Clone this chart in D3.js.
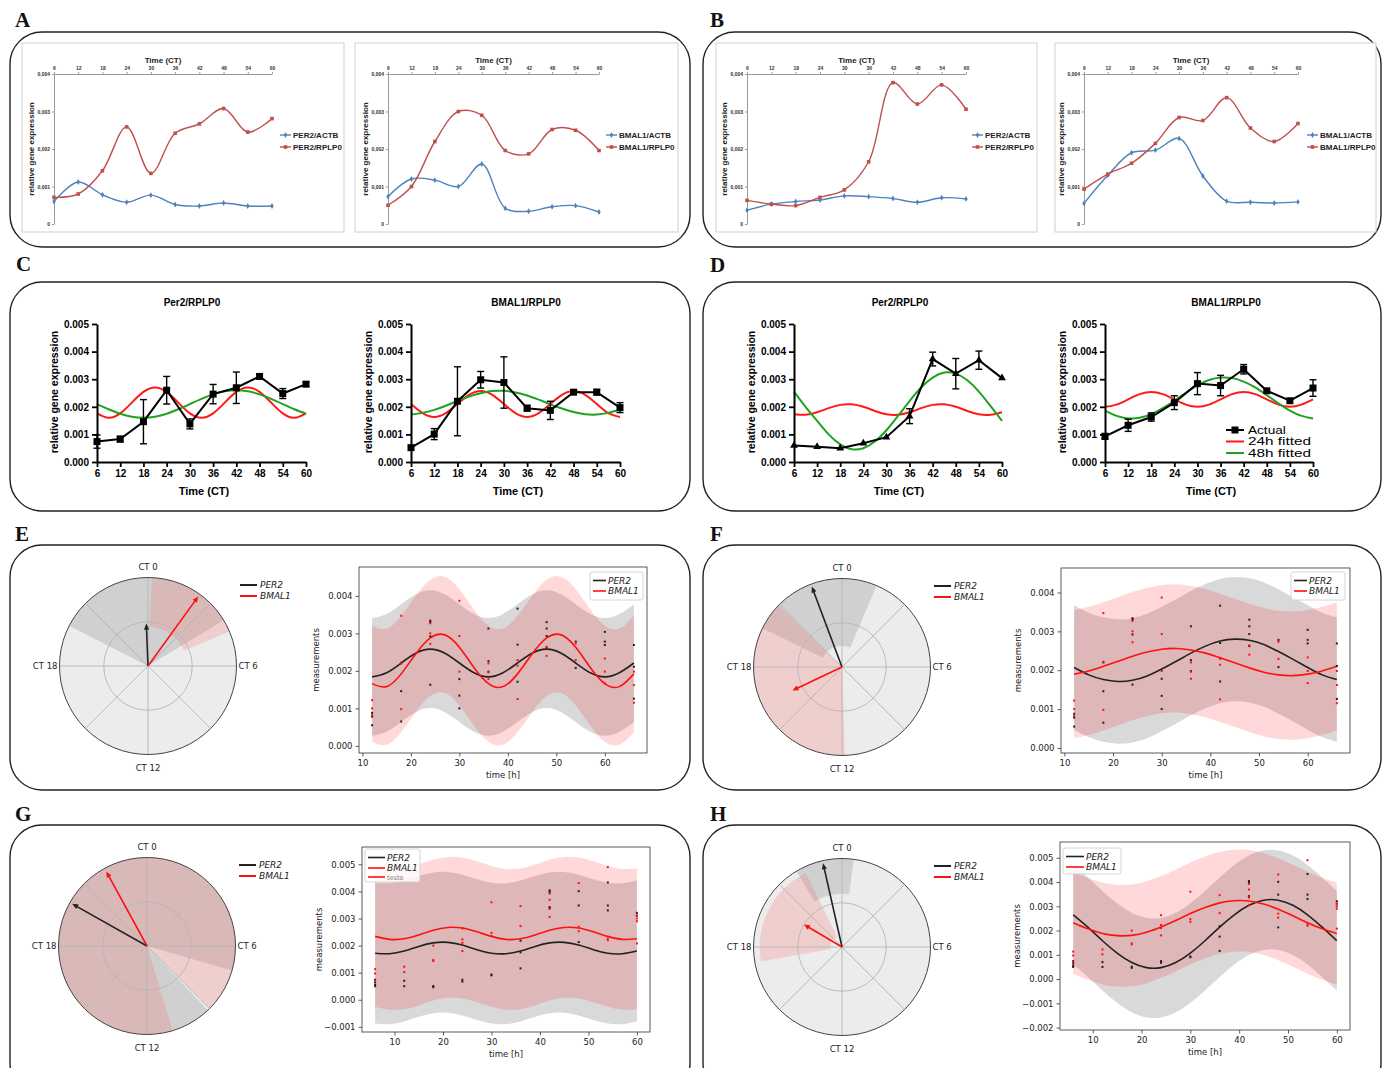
<!DOCTYPE html>
<html><head><meta charset="utf-8">
<script src="https://cdn.jsdelivr.net/npm/d3@7/dist/d3.min.js"></script>
<style>html,body{margin:0;padding:0;background:#fff;}</style>
</head><body>
<script>
// ===================== DATA =====================
const ctTimes = [6,12,18,24,30,36,42,48,54,60];
const fitTimes = [6,9,12,15,18,21,24,27,30,33,36,39,42,45,48,51,54,57,60];
const efFitTimes = [12,15,18,21,24,27,30,33,36,39,42,45,48,51,54,57,60,63,66];
const ghFitTimes = [6,9,12,15,18,21,24,27,30,33,36,39,42,45,48,51,54,57,60];
const excelYTicks = [0,0.001,0.002,0.003,0.004];
const prismYTicks = [0,0.001,0.002,0.003,0.004,0.005];

// Panel A
const aPer2Actb   = [0.00060,0.00112,0.00078,0.00058,0.00077,0.00052,0.00048,0.00056,0.00048,0.00048];
const aPer2Rplp0  = [0.00071,0.00080,0.00142,0.00259,0.00135,0.00242,0.00267,0.00308,0.00245,0.00281];
const aBmal1Actb  = [0.00073,0.00120,0.00117,0.00100,0.00160,0.00042,0.00034,0.00046,0.00049,0.00032];
const aBmal1Rplp0 = [0.00050,0.00100,0.00220,0.00300,0.00290,0.00196,0.00187,0.00252,0.00250,0.00196];
// Panel B
const bPer2Actb   = [0.00037,0.00053,0.00060,0.00064,0.00075,0.00073,0.00068,0.00058,0.00070,0.00067];
const bPer2Rplp0  = [0.00063,0.00053,0.00049,0.00071,0.00091,0.00166,0.00377,0.00320,0.00371,0.00306];
const bBmal1Actb  = [0.00055,0.00130,0.00190,0.00197,0.00228,0.00128,0.00061,0.00058,0.00056,0.00059];
const bBmal1Rplp0 = [0.00093,0.00133,0.00162,0.00215,0.00284,0.00276,0.00337,0.00256,0.00220,0.00268];

// Panel C
const cPer2Mean  = [0.00074,0.00083,0.00146,0.00260,0.00138,0.00246,0.00269,0.00310,0.00248,0.00282];
const cPer2Err   = [0.00024,0.00010,0.00080,0.00050,0.00018,0.00035,0.00057,0.00008,0.00018,0.00008];
const cPer2Fit24 = [0.00176,0.00160,0.00176,0.00215,0.00254,0.00270,0.00254,0.00215,0.00176,0.00160,0.00176,0.00215,0.00254,0.00270,0.00254,0.00215,0.00176,0.00160,0.00176];
const cPer2Fit48 = [0.00210,0.00191,0.00175,0.00164,0.00160,0.00164,0.00175,0.00191,0.00210,0.00229,0.00245,0.00256,0.00260,0.00256,0.00245,0.00229,0.00210,0.00191,0.00175];
const cBmal1Mean  = [0.00052,0.00101,0.00220,0.00298,0.00288,0.00195,0.00187,0.00253,0.00253,0.00197];
const cBmal1Err   = [0.00005,0.00020,0.00125,0.00030,0.00093,0.00010,0.00033,0.00005,0.00010,0.00018];
const cBmal1Fit24 = [0.00210,0.00177,0.00163,0.00177,0.00210,0.00243,0.00257,0.00243,0.00210,0.00177,0.00163,0.00177,0.00210,0.00243,0.00257,0.00243,0.00210,0.00177,0.00163];
const cBmal1Fit48 = [0.00172,0.00178,0.00189,0.00204,0.00221,0.00237,0.00249,0.00257,0.00258,0.00252,0.00241,0.00226,0.00209,0.00194,0.00181,0.00173,0.00172,0.00178,0.00189];
// Panel D
const dPer2Mean  = [0.00060,0.00055,0.00050,0.00068,0.00090,0.00166,0.00373,0.00320,0.00369,0.00304];
const dPer2Err   = [0.00003,0.00003,0.00003,0.00004,0.00003,0.00027,0.00025,0.00055,0.00033,0.00003];
const dPer2Fit24 = [0.00173,0.00171,0.00180,0.00195,0.00207,0.00209,0.00200,0.00185,0.00173,0.00171,0.00180,0.00195,0.00207,0.00209,0.00200,0.00185,0.00173,0.00171,0.00180];
const dPer2Fit48 = [0.00255,0.00200,0.00149,0.00100,0.00064,0.00046,0.00050,0.00074,0.00115,0.00167,0.00221,0.00270,0.00306,0.00324,0.00320,0.00296,0.00255,0.00203,0.00149];
const dBmal1Mean  = [0.00093,0.00133,0.00163,0.00215,0.00284,0.00277,0.00336,0.00258,0.00222,0.00268];
const dBmal1Err   = [0.00010,0.00022,0.00015,0.00025,0.00040,0.00037,0.00017,0.00005,0.00004,0.00030];
const dBmal1Fit24 = [0.00200,0.00208,0.00227,0.00246,0.00254,0.00246,0.00227,0.00208,0.00200,0.00208,0.00227,0.00246,0.00254,0.00246,0.00227,0.00208,0.00200,0.00208,0.00227];
const dBmal1Fit48 = [0.00186,0.00167,0.00158,0.00160,0.00173,0.00195,0.00222,0.00251,0.00278,0.00297,0.00306,0.00304,0.00291,0.00270,0.00242,0.00213,0.00186,0.00167,0.00158];
const dLegendLabels = ['Actual','24h fitted','48h fitted'];

// Panels E/F raw measurements (time [h], value)
const efPer2Points = [[12,0.00088],[12,0.00078],[12,0.00055],[18,0.00220],[18,0.00146],[18,0.00065],
  [24,0.00334],[24,0.00330],[24,0.00292],[24,0.00163],[30,0.00178],[30,0.00134],[30,0.00100],
  [36,0.00313],[36,0.00226],[36,0.00198],[42,0.00366],[42,0.00270],[42,0.00171],
  [48,0.00330],[48,0.00313],[48,0.00293],[48,0.00262],[54,0.00278],[54,0.00208],
  [60,0.00304],[60,0.00278],[60,0.00269],[66,0.00269],[66,0.00211],[66,0.00126]];
const efBmal1Points = [[12,0.00122],[12,0.00100],[12,0.00082],[18,0.00347],[18,0.00222],[18,0.00098],
  [24,0.00327],[24,0.00300],[24,0.00272],[30,0.00387],[30,0.00293],[30,0.00198],
  [36,0.00220],[36,0.00196],[36,0.00178],[42,0.00229],[42,0.00214],[42,0.00125],
  [48,0.00264],[48,0.00240],[54,0.00273],[54,0.00229],[60,0.00233],[60,0.00198],[60,0.00167],
  [66,0.00198],[66,0.00162],[66,0.00115]];
// Panels G/H raw measurements
const ghPer2Points = [[6,0.00074],[6,0.00064],[6,0.00055],[6,0.00050],[12,0.00070],[12,0.00050],
  [18,0.00051],[18,0.00046],[24,0.00074],[24,0.00067],[30,0.00093],[30,0.00090],
  [36,0.00218],[36,0.00175],[36,0.00116],[42,0.00404],[42,0.00398],[42,0.00342],[42,0.00338],
  [48,0.00401],[48,0.00348],[48,0.00213],[54,0.00433],[54,0.00348],[54,0.00330],[60,0.00321],[60,0.00311]];
const ghBmal1Points = [[6,0.00113],[6,0.00097],[6,0.00070],[12,0.00122],[12,0.00102],
  [18,0.00200],[18,0.00147],[18,0.00143],[24,0.00263],[24,0.00223],[24,0.00210],[24,0.00180],
  [30,0.00360],[30,0.00247],[30,0.00236],[36,0.00346],[36,0.00272],
  [42,0.00392],[42,0.00369],[42,0.00336],[42,0.00306],[48,0.00431],[48,0.00270],[48,0.00253],
  [54,0.00490],[54,0.00226],[54,0.00220],[60,0.00310],[60,0.00300],[60,0.00290],[60,0.00208]];

// Cosinor fits
const ePer2Fit  = [0.00184,0.00195,0.00221,0.00247,0.00258,0.00247,0.00221,0.00195,0.00184,0.00195,0.00221,0.00247,0.00258,0.00247,0.00221,0.00195,0.00184,0.00195,0.00221];
const eBmal1Fit = [0.00166,0.00158,0.00192,0.00245,0.00288,0.00296,0.00263,0.00209,0.00166,0.00158,0.00192,0.00245,0.00288,0.00296,0.00263,0.00209,0.00166,0.00158,0.00192];
const fPer2Fit  = [0.00207,0.00188,0.00176,0.00171,0.00174,0.00185,0.00203,0.00223,0.00244,0.00262,0.00275,0.00280,0.00277,0.00266,0.00248,0.00228,0.00207,0.00188,0.00176];
const fBmal1Fit = [0.00190,0.00198,0.00210,0.00223,0.00236,0.00247,0.00254,0.00256,0.00252,0.00244,0.00232,0.00219,0.00206,0.00195,0.00188,0.00186,0.00190,0.00198,0.00210];
const gPer2Fit  = [0.00172,0.00170,0.00180,0.00197,0.00210,0.00212,0.00202,0.00185,0.00172,0.00170,0.00180,0.00197,0.00210,0.00212,0.00202,0.00185,0.00172,0.00170,0.00180];
const gBmal1Fit = [0.00234,0.00223,0.00225,0.00239,0.00257,0.00267,0.00265,0.00251,0.00234,0.00223,0.00225,0.00239,0.00257,0.00267,0.00265,0.00251,0.00234,0.00223,0.00225];
const hPer2Fit  = [0.00265,0.00214,0.00158,0.00107,0.00068,0.00047,0.00047,0.00068,0.00107,0.00158,0.00214,0.00265,0.00304,0.00325,0.00325,0.00304,0.00265,0.00214,0.00158];
const hBmal1Fit = [0.00232,0.00207,0.00188,0.00179,0.00180,0.00193,0.00215,0.00241,0.00270,0.00295,0.00314,0.00323,0.00322,0.00309,0.00288,0.00261,0.00232,0.00207,0.00188];
// confidence band half widths
const ePer2Band = 0.00157, eBmal1Band = 0.00155;
const fPer2Band = 0.00160, fBmal1Band = 0.00165;
const gPer2Band = 0.00260, gBmal1Band = 0.00260;
const hPer2Band = 0.00205, hBmal1Band = 0.00210;

// Polar plots: acrophase CI (CT h) and normalised amplitude CI; arrows = acrophase & amplitude
const ePolarSectors = [{gene:'PER2',ct0:-4.20,ct1:3.93,r0:0,r1:1},{gene:'BMAL1',ct0:0.17,ct1:4.47,r0:0.44,r1:1}];
const ePolarArrows  = [{gene:'PER2',ct:-0.15,amp:0.48},{gene:'BMAL1',ct:2.39,amp:0.97}];
const fPolarSectors = [{gene:'PER2',ct0:-4.27,ct1:1.53,r0:0.24,r1:1},{gene:'BMAL1',ct0:11.87,ct1:20.93,r0:0,r1:1}];
const fPolarArrows  = [{gene:'PER2',ct:-1.37,amp:0.97},{gene:'BMAL1',ct:16.31,amp:0.62}];
const gPolarSectors = [{gene:'PER2',ct0:9.10,ct1:31.07,r0:0,r1:1},{gene:'BMAL1',ct0:10.87,ct1:32.98,r0:0,r1:1}];
const gPolarArrows  = [{gene:'PER2',ct:-4.04,amp:0.97},{gene:'BMAL1',ct:-1.91,amp:0.96}];
const hPolarSectors = [{gene:'PER2',ct0:-2.07,ct1:0.51,r0:0.6,r1:1},{gene:'BMAL1',ct0:-6.67,ct1:-1.73,r0:0.13,r1:0.93}];
const hPolarArrows  = [{gene:'PER2',ct:-0.85,amp:0.97},{gene:'BMAL1',ct:-3.96,amp:0.5}];
const polarLabels = ['CT 0','CT 6','CT 12','CT 18'];

// ===================== DRAWING =====================
const ARIAL = "'Liberation Sans', Arial, sans-serif";
const MPL = "'DejaVu Sans', sans-serif";
const SERIF = "'Liberation Serif', 'Times New Roman', serif";
const svg = d3.select('body').append('svg').attr('width',1386).attr('height',1068);

// panel frames and letters
[['A',10,32,680,215,15,27],['B',703,32,678,215,710,27],['C',10,282,680,229,16,271],['D',703,282,678,229,710,272],
 ['E',10,545,680,245,15,541],['F',703,545,678,245,710,541],['G',10,825,680,270,15,821],['H',703,825,678,270,710,821]]
.forEach(([L,x,y,w,h,lx,ly])=>{
  svg.append('rect').attr('x',x).attr('y',y).attr('width',w).attr('height',h).attr('rx',32).attr('ry',32)
    .attr('fill','none').attr('stroke','#222').attr('stroke-width',1.4);
  svg.append('text').attr('x',lx).attr('y',ly).text(L).attr('font-family',SERIF).attr('font-weight','bold').attr('font-size',21).attr('fill','#111');
});

// ---------- Excel-like charts (A, B) ----------
function excelChart(o){
  const g = svg.append('g');
  g.append('rect').attr('x',o.box[0]).attr('y',o.box[1]).attr('width',o.box[2]-o.box[0]).attr('height',o.box[3]-o.box[1])
    .attr('fill','#fff').attr('stroke','#cfcfcf').attr('stroke-width',1);
  const x = d3.scaleLinear().domain([6,60]).range([o.x6,o.x60]);
  const y = d3.scaleLinear().domain([0,0.004]).range([224,74]);
  const ya = g.append('g').attr('transform',`translate(${o.x6},0)`)
    .call(d3.axisLeft(y).tickValues(excelYTicks).tickSize(2).tickSizeOuter(0).tickPadding(2)
      .tickFormat(d=>d===0?'0':d3.format('.3f')(d).replace('.',',')));
  const xa = g.append('g').attr('transform',`translate(0,${y(0.004)})`)
    .call(d3.axisTop(x).tickValues(ctTimes).tickSize(2).tickSizeOuter(0).tickPadding(2));
  [ya,xa].forEach(a=>{
    a.select('.domain').attr('stroke','#9a9a9a');
    a.selectAll('.tick line').attr('stroke','#9a9a9a');
    a.selectAll('text').attr('font-size',5).attr('font-weight','bold').attr('fill','#333').attr('font-family',ARIAL);
  });
  g.append('text').attr('x',(o.x6+o.x60)/2).attr('y',63).attr('text-anchor','middle').text('Time (CT)')
    .attr('font-family',ARIAL).attr('font-weight','bold').attr('font-size',8).attr('fill','#222');
  g.append('text').attr('transform',`translate(${o.x6-20},149) rotate(-90)`).attr('text-anchor','middle')
    .text('relative gene expression').attr('font-family',ARIAL).attr('font-weight','bold').attr('font-size',8).attr('fill','#222');
  const line = d3.line().x((d,i)=>x(ctTimes[i])).y(d=>y(d)).curve(d3.curveCatmullRom.alpha(0.5));
  o.series.forEach((s,k)=>{
    g.append('path').attr('d',line(s.values)).attr('fill','none').attr('stroke',s.color).attr('stroke-width',1.4);
    s.values.forEach((v,i)=>{
      if(s.marker==='square'){
        g.append('rect').attr('x',x(ctTimes[i])-1.8).attr('y',y(v)-1.8).attr('width',3.6).attr('height',3.6).attr('fill',s.color);
      } else {
        g.append('path').attr('d',d3.symbol(d3.symbolDiamond,10)()).attr('transform',`translate(${x(ctTimes[i])},${y(v)})`).attr('fill',s.color);
      }
    });
    const ly = 135 + k*12;
    g.append('line').attr('x1',o.legX).attr('x2',o.legX+11).attr('y1',ly).attr('y2',ly).attr('stroke',s.color).attr('stroke-width',1.4);
    if(s.marker==='square') g.append('rect').attr('x',o.legX+3.7).attr('y',ly-1.8).attr('width',3.6).attr('height',3.6).attr('fill',s.color);
    else g.append('path').attr('d',d3.symbol(d3.symbolDiamond,10)()).attr('transform',`translate(${o.legX+5.5},${ly})`).attr('fill',s.color);
    g.append('text').attr('x',o.legX+13).attr('y',ly+3).text(s.name).attr('font-family',ARIAL).attr('font-weight','bold').attr('font-size',8).attr('fill','#222');
  });
}
const BLUE='#4f81bd', DRED='#c0504d';
excelChart({box:[22,43,344,232],x6:54,x60:272,legX:280,series:[
  {name:'PER2/ACTB',values:aPer2Actb,color:BLUE,marker:'diamond'},{name:'PER2/RPLP0',values:aPer2Rplp0,color:DRED,marker:'square'}]});
excelChart({box:[355,43,678,232],x6:388,x60:599,legX:606,series:[
  {name:'BMAL1/ACTB',values:aBmal1Actb,color:BLUE,marker:'diamond'},{name:'BMAL1/RPLP0',values:aBmal1Rplp0,color:DRED,marker:'square'}]});
excelChart({box:[716,43,1037,232],x6:747,x60:966,legX:972,series:[
  {name:'PER2/ACTB',values:bPer2Actb,color:BLUE,marker:'diamond'},{name:'PER2/RPLP0',values:bPer2Rplp0,color:DRED,marker:'square'}]});
excelChart({box:[1055,43,1376,232],x6:1084,x60:1298,legX:1307,series:[
  {name:'BMAL1/ACTB',values:bBmal1Actb,color:BLUE,marker:'diamond'},{name:'BMAL1/RPLP0',values:bBmal1Rplp0,color:DRED,marker:'square'}]});

// ---------- Prism-like charts (C, D) ----------
const FRED='#ff1a1a', FGREEN='#1fa31f';
function prismChart(o){
  const g = svg.append('g');
  const x = d3.scaleLinear().domain([6,60]).range([o.ax,o.x60]);
  const y = d3.scaleLinear().domain([0,0.005]).range([462,324]);
  const fitLine = d3.line().x((d,i)=>x(fitTimes[i])).y(d=>y(d)).curve(d3.curveNatural);
  g.append('path').attr('d',fitLine(o.fit24)).attr('fill','none').attr('stroke',FRED).attr('stroke-width',2);
  g.append('path').attr('d',fitLine(o.fit48)).attr('fill','none').attr('stroke',FGREEN).attr('stroke-width',2);
  const ya = g.append('g').attr('transform',`translate(${o.ax},0)`)
    .call(d3.axisLeft(y).tickValues(prismYTicks).tickFormat(d3.format('.3f')).tickSize(5).tickSizeOuter(0).tickPadding(3));
  const xa = g.append('g').attr('transform',`translate(0,${y(0)})`)
    .call(d3.axisBottom(x).tickValues(ctTimes).tickSize(5).tickSizeOuter(0).tickPadding(3));
  [ya,xa].forEach(a=>{
    a.select('.domain').attr('stroke','#000').attr('stroke-width',2);
    a.selectAll('.tick line').attr('stroke','#000').attr('stroke-width',1.8);
    a.selectAll('text').attr('font-size',10).attr('font-weight','bold').attr('fill','#000').attr('font-family',ARIAL);
  });
  const mline = d3.line().x((d,i)=>x(ctTimes[i])).y(d=>y(d));
  g.append('path').attr('d',mline(o.mean)).attr('fill','none').attr('stroke','#000').attr('stroke-width',2);
  o.mean.forEach((m,i)=>{
    const cx = x(ctTimes[i]);
    if(o.err[i] > 0.00005){
      g.append('line').attr('x1',cx).attr('x2',cx).attr('y1',y(m-o.err[i])).attr('y2',y(m+o.err[i])).attr('stroke','#000').attr('stroke-width',1.4);
      [m-o.err[i],m+o.err[i]].forEach(v=>g.append('line').attr('x1',cx-3.5).attr('x2',cx+3.5).attr('y1',y(v)).attr('y2',y(v)).attr('stroke','#000').attr('stroke-width',1.4));
    }
    if(o.marker==='triangle') g.append('path').attr('d',d3.symbol(d3.symbolTriangle,26)()).attr('transform',`translate(${cx},${y(m)})`).attr('fill','#000');
    else g.append('rect').attr('x',cx-3.5).attr('y',y(m)-3.5).attr('width',7).attr('height',7).attr('fill','#000');
  });
  g.append('text').attr('x',o.titleX).attr('y',306).attr('text-anchor','middle').text(o.title)
    .attr('font-family',ARIAL).attr('font-weight','bold').attr('font-size',10).attr('fill','#000');
  g.append('text').attr('x',o.timeX).attr('y',495).attr('text-anchor','middle').text('Time (CT)')
    .attr('font-family',ARIAL).attr('font-weight','bold').attr('font-size',11).attr('fill','#000');
  g.append('text').attr('transform',`translate(${o.ylabX},392) rotate(-90)`).attr('text-anchor','middle').text('relative gene expression')
    .attr('font-family',ARIAL).attr('font-weight','bold').attr('font-size',10.5).attr('fill','#000');
  if(o.legend){
    const lx=1226;
    const cols=['#000',FRED,FGREEN], ys=[430,441.5,453];
    dLegendLabels.forEach((t,k)=>{
      const ly=ys[k], c=cols[k];
      g.append('line').attr('x1',lx).attr('x2',lx+18).attr('y1',ly).attr('y2',ly).attr('stroke',c).attr('stroke-width',2);
      if(k===0) g.append('rect').attr('x',lx+5.5).attr('y',ly-3.5).attr('width',7).attr('height',7).attr('fill','#000');
      g.append('text').attr('x',lx+22).attr('y',ly+3.8).text(t).attr('font-family',ARIAL).attr('font-size',10)
        .attr('textLength',t.length*6.3).attr('lengthAdjust','spacingAndGlyphs').attr('fill','#000');
    });
  }
}
prismChart({ax:97,x60:306,title:'Per2/RPLP0',titleX:192,timeX:204,ylabX:58,mean:cPer2Mean,err:cPer2Err,fit24:cPer2Fit24,fit48:cPer2Fit48,marker:'square'});
prismChart({ax:411,x60:620,title:'BMAL1/RPLP0',titleX:526,timeX:518,ylabX:372,mean:cBmal1Mean,err:cBmal1Err,fit24:cBmal1Fit24,fit48:cBmal1Fit48,marker:'square'});
prismChart({ax:794,x60:1002,title:'Per2/RPLP0',titleX:900,timeX:899,ylabX:755,mean:dPer2Mean,err:dPer2Err,fit24:dPer2Fit24,fit48:dPer2Fit48,marker:'triangle'});
prismChart({ax:1105,x60:1313,title:'BMAL1/RPLP0',titleX:1226,timeX:1211,ylabX:1066,mean:dBmal1Mean,err:dBmal1Err,fit24:dBmal1Fit24,fit48:dBmal1Fit48,marker:'square',legend:true});

// ---------- Polar (acrophase) plots ----------
const sectorFill = {PER2:'rgba(110,110,110,0.22)', BMAL1:'rgba(255,90,90,0.2)'};
const geneColor = {PER2:'#222', BMAL1:'#ff1010'};
function polarPlot(cx,cy,R,sectors,arrows){
  const g = svg.append('g').attr('transform',`translate(${cx},${cy})`);
  const ang = d3.scaleLinear().domain([0,24]).range([0,2*Math.PI]);
  const rad = d3.scaleLinear().domain([0,1]).range([0,R]);
  g.append('circle').attr('r',R).attr('fill','#ececec');
  sectors.forEach(s=>{
    g.append('path').attr('d',d3.arc()({innerRadius:rad(s.r0),outerRadius:rad(s.r1),startAngle:ang(s.ct0),endAngle:ang(s.ct1)}))
      .attr('fill',sectorFill[s.gene]);
  });
  g.append('circle').attr('r',rad(0.5)).attr('fill','none').attr('stroke','#b5b5b5').attr('stroke-width',0.9);
  d3.range(0,24,3).forEach(h=>{
    const a = ang(h);
    g.append('line').attr('x1',0).attr('y1',0).attr('x2',R*Math.sin(a)).attr('y2',-R*Math.cos(a)).attr('stroke','#b5b5b5').attr('stroke-width',0.9);
  });
  g.append('circle').attr('r',R).attr('fill','none').attr('stroke','#444').attr('stroke-width',1);
  arrows.forEach(a=>{
    const th = ang(a.ct), L = rad(a.amp);
    const tx = L*Math.sin(th), ty = -L*Math.cos(th);
    const ux = Math.sin(th), uy = -Math.cos(th);
    const c = geneColor[a.gene];
    g.append('line').attr('x1',0).attr('y1',0).attr('x2',tx-ux*3).attr('y2',ty-uy*3).attr('stroke',c).attr('stroke-width',1.6);
    const bx = tx-ux*6, by = ty-uy*6;
    g.append('path').attr('d',`M${tx},${ty}L${bx-uy*2.6},${by+ux*2.6}L${bx+uy*2.6},${by-ux*2.6}Z`).attr('fill',c);
  });
  const t = (x,y,s,anchor)=>g.append('text').attr('x',x).attr('y',y).attr('text-anchor',anchor).text(s)
    .attr('font-family',MPL).attr('font-size',8.5).attr('fill','#222');
  t(0,-R-8,polarLabels[0],'middle');
  t(R+2,3,polarLabels[1],'start');
  t(0,R+16,polarLabels[2],'middle');
  t(-R-2,3,polarLabels[3],'end');
  [['PER2',-81],['BMAL1',-70]].forEach(([n,dy])=>{
    g.append('line').attr('x1',92).attr('x2',109).attr('y1',dy).attr('y2',dy).attr('stroke',geneColor[n]).attr('stroke-width',2);
    g.append('text').attr('x',112).attr('y',dy+3).text(n).attr('font-family',MPL).attr('font-style','italic').attr('font-size',9).attr('fill','#222');
  });
}
polarPlot(148,666,88.5,ePolarSectors,ePolarArrows);
polarPlot(842,667,88.5,fPolarSectors,fPolarArrows);
polarPlot(147,946,88.5,gPolarSectors,gPolarArrows);
polarPlot(842,947,88.5,hPolarSectors,hPolarArrows);

// ---------- matplotlib-like time series ----------
const bandFill = {PER2:'rgba(128,128,128,0.3)', BMAL1:'rgba(255,0,0,0.15)'};
function mplPlot(o){
  const g = svg.append('g');
  const [x0,y0,x1,y1] = o.frame;
  const x = d3.scaleLinear().domain(o.xDom).range([x0,x1]);
  const y = d3.scaleLinear().domain(o.yDom).range([y1,y0]);
  g.append('rect').attr('x',x0).attr('y',y0).attr('width',x1-x0).attr('height',y1-y0).attr('fill','#fff');
  ['PER2','BMAL1'].forEach(gene=>{
    const bw = o.bands[gene];
    const area = d3.area().x((d,i)=>x(o.fitT[i])).y0(d=>y(d-bw)).y1(d=>y(d+bw)).curve(d3.curveNatural);
    g.append('path').attr('d',area(o.fits[gene])).attr('fill',bandFill[gene]);
  });
  ['PER2','BMAL1'].forEach(gene=>{
    const line = d3.line().x((d,i)=>x(o.fitT[i])).y(d=>y(d)).curve(d3.curveNatural);
    g.append('path').attr('d',line(o.fits[gene])).attr('fill','none').attr('stroke',geneColor[gene]).attr('stroke-width',1.6);
  });
  ['PER2','BMAL1'].forEach(gene=>{
    o.points[gene].forEach(p=>g.append('rect').attr('x',x(p[0])-1).attr('y',y(p[1])-1).attr('width',2).attr('height',2).attr('fill',geneColor[gene]));
  });
  g.append('rect').attr('x',x0).attr('y',y0).attr('width',x1-x0).attr('height',y1-y0).attr('fill','none').attr('stroke','#333').attr('stroke-width',0.8);
  const ya = g.append('g').attr('transform',`translate(${x0},0)`)
    .call(d3.axisLeft(y).tickValues(o.yTicks).tickFormat(d3.format('.3f')).tickSize(3.5).tickSizeOuter(0).tickPadding(3));
  const xa = g.append('g').attr('transform',`translate(0,${y1})`)
    .call(d3.axisBottom(x).tickValues([10,20,30,40,50,60]).tickFormat(d3.format('d')).tickSize(3.5).tickSizeOuter(0).tickPadding(3));
  [ya,xa].forEach(a=>{
    a.select('.domain').remove();
    a.selectAll('.tick line').attr('stroke','#333').attr('stroke-width',0.8);
    a.selectAll('text').attr('font-size',8.5).attr('fill','#222').attr('font-family',MPL);
  });
  g.append('text').attr('transform',`translate(${x0-40},${(y0+y1)/2}) rotate(-90)`).attr('text-anchor','middle').text('measurements')
    .attr('font-family',MPL).attr('font-size',8.5).attr('fill','#222');
  g.append('text').attr('x',(x0+x1)/2).attr('y',y1+25).attr('text-anchor','middle').text('time [h]')
    .attr('font-family',MPL).attr('font-size',8.5).attr('fill','#222');
  const L = o.legend;
  g.append('rect').attr('x',L.x).attr('y',L.y).attr('width',L.w).attr('height',L.h).attr('rx',2)
    .attr('fill','rgba(255,255,255,0.8)').attr('stroke','#cccccc').attr('stroke-width',0.8);
  const rows = [['PER2',geneColor.PER2],['BMAL1',geneColor.BMAL1]];
  rows.forEach(([n,c],k)=>{
    const ly = L.y + 8.5 + k*10.5;
    g.append('line').attr('x1',L.x+3).attr('x2',L.x+3+L.line).attr('y1',ly).attr('y2',ly).attr('stroke',c).attr('stroke-width',1.6);
    g.append('text').attr('x',L.x+5+L.line).attr('y',ly+3.3).text(n).attr('font-family',MPL).attr('font-style','italic').attr('font-size',9).attr('fill','#222');
  });
  if(L.extra){
    const ly = L.y + 28;
    g.append('line').attr('x1',L.x+3).attr('x2',L.x+3+L.line).attr('y1',ly).attr('y2',ly).attr('stroke',geneColor.BMAL1).attr('stroke-width',1.6);
    g.append('text').attr('x',L.x+5+L.line).attr('y',ly+2.5).text(L.extra).attr('font-family',MPL).attr('font-size',6.5).attr('fill','#777');
  }
}
mplPlot({frame:[359,567,647,753],xDom:[9.3,68.7],yDom:[-0.00019,0.00477],yTicks:[0,0.001,0.002,0.003,0.004],
  fitT:efFitTimes,fits:{PER2:ePer2Fit,BMAL1:eBmal1Fit},bands:{PER2:ePer2Band,BMAL1:eBmal1Band},
  points:{PER2:efPer2Points,BMAL1:efBmal1Points},legend:{x:590,y:572,w:53,h:28,line:13}});
mplPlot({frame:[1061,568,1350,753],xDom:[9.3,68.7],yDom:[-0.00013,0.00463],yTicks:[0,0.001,0.002,0.003,0.004],
  fitT:efFitTimes,fits:{PER2:fPer2Fit,BMAL1:fBmal1Fit},bands:{PER2:fPer2Band,BMAL1:fBmal1Band},
  points:{PER2:efPer2Points,BMAL1:efBmal1Points},legend:{x:1291,y:572,w:54,h:28,line:13}});
mplPlot({frame:[362,847,650,1032],xDom:[3.3,62.7],yDom:[-0.00119,0.00564],yTicks:[-0.001,0,0.001,0.002,0.003,0.004,0.005],
  fitT:ghFitTimes,fits:{PER2:gPer2Fit,BMAL1:gBmal1Fit},bands:{PER2:gPer2Band,BMAL1:gBmal1Band},
  points:{PER2:ghPer2Points,BMAL1:ghBmal1Points},legend:{x:365,y:849,w:55,h:33,line:17,extra:'testo'}});
mplPlot({frame:[1060,842,1350,1030],xDom:[3.3,62.7],yDom:[-0.0021,0.00565],yTicks:[-0.002,-0.001,0,0.001,0.002,0.003,0.004,0.005],
  fitT:ghFitTimes,fits:{PER2:hPer2Fit,BMAL1:hBmal1Fit},bands:{PER2:hPer2Band,BMAL1:hBmal1Band},
  points:{PER2:ghPer2Points,BMAL1:ghBmal1Points},legend:{x:1063,y:848,w:58,h:26,line:18}});
</script>
</body></html>
